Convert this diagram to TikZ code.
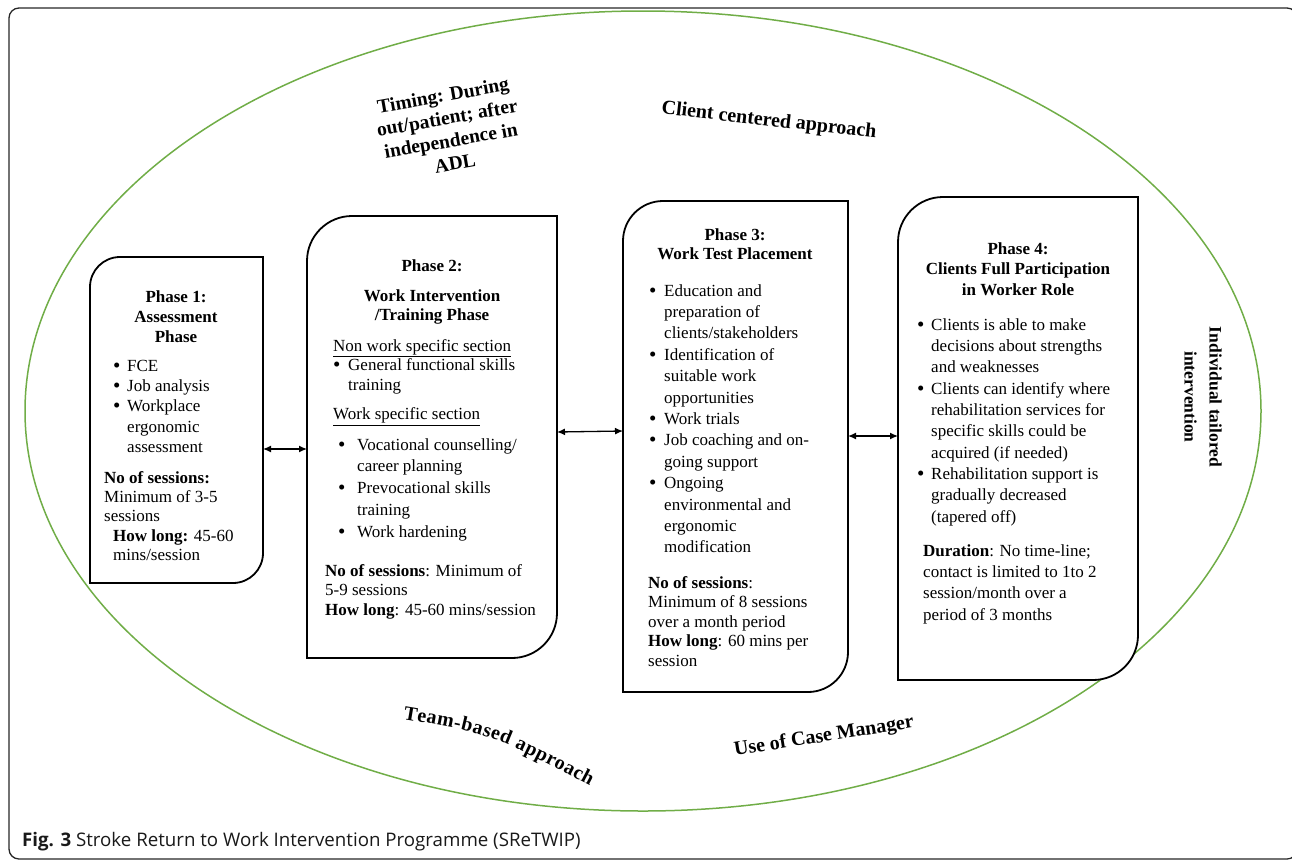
\documentclass[tikz,border=0pt]{standalone}
\usepackage{fontspec}
\setmainfont{Liberation Serif}
\newfontfamily\capfont{Open Sans}
\usetikzlibrary{arrows.meta,calc,decorations.text}
\definecolor{ellgreen}{HTML}{70AD47}
\newcommand\bigdot{\raisebox{-1pt}{\fontsize{21}{21}\selectfont\textbullet}}
\newcommand\pbul[2][14pt]{\strut\makebox[#1][l]{\bigdot}#2}
\newcommand\pcon[2][14pt]{\strut\hspace*{#1}#2}
\newcommand\phasebox[2]{%
  \draw[boxline] ($(#1.north west)+(#2,0)$) -- (#1.north east) -- ($(#1.south east)-(0,#2)$)
    .. controls ($(#1.south east)-(0,0.4477*#2)$) and ($(#1.south east)-(0.4477*#2,0)$) .. ($(#1.south east)-(#2,0)$)
    -- (#1.south west) -- ($(#1.north west)+(0,#2)$)
    .. controls ($(#1.north west)+(0,0.4477*#2)$) and ($(#1.north west)+(0.4477*#2,0)$) .. ($(#1.north west)+(#2,0)$) -- cycle;}
\tikzset{
  boxline/.style={draw=black, fill=white, line width=1.8pt},
  phase/.style={inner sep=0pt, outer sep=0pt, rectangle},
  ttl/.style={inner sep=0pt, anchor=north, align=center, font=\fontsize{17}{#1}\selectfont\bfseries},
  blk/.style={inner sep=0pt, anchor=north west, align=left, font=\fontsize{17}{#1}\selectfont},
  dbl/.style={arrows={Latex[length=8pt,width=7pt]-Latex[length=8pt,width=7pt]}, line width=1.3pt},
  lbl/.style={inner sep=0pt, align=center},
  ellipseline/.style={draw=ellgreen, line width=1.5pt},
  frameline/.style={draw=black!85, line width=1.3pt, rounded corners=10pt}
}
\begin{document}
\begin{tikzpicture}[x=1pt,y=-1pt]
\useasboundingbox (0,0) rectangle (1292,860);
\draw[frameline] (9,8) rectangle (1297,859);
\draw[ellipseline] (643,411) ellipse [x radius=618pt, y radius=400pt];

\node[phase, minimum width=173pt, minimum height=326pt] (b1) at (176.5,420) {};
\node[phase, minimum width=250pt, minimum height=442pt] (b2) at (432,437) {};
\node[phase, minimum width=225pt, minimum height=491pt] (b3) at (735.5,446.5) {};
\node[phase, minimum width=240pt, minimum height=483pt] (b4) at (1018,438.5) {};
\phasebox{b1}{30}
\phasebox{b2}{45}
\phasebox{b3}{40}
\phasebox{b4}{45}

% Box 1
\node[ttl=20] (t1) at (176,288) {\strut Phase 1:\\Assessment\\Phase};
\node[blk=20.3] (l1) at (113,356.8) {\pbul{FCE}\\\pbul{Job analysis}\\\pbul{Workplace}\\\pcon{ergonomic}\\\pcon{assessment}};
\node[blk=19.3] (s1) at (104,469.5) {\strut\textbf{No of sessions:}\\Minimum of 3-5\\sessions\\\hspace*{9pt}\textbf{How long:} 45-60\\\hspace*{9pt}mins/session};

% Box 2
\node[ttl=20] (t2a) at (432,257) {\strut Phase 2:};
\node[ttl=19] (t2b) at (432,287.7) {\strut Work Intervention\\/Training Phase};
\node[blk=19.5] (n2) at (333,337.5) {\strut\underline{Non work specific section}\\\pbul[15pt]{General functional skills}\\\pcon[15pt]{training}};
\node[blk=21] (w2) at (333,405) {\strut\underline{Work specific section}};
\node[blk=21.75] (l2) at (338,434.8) {\pbul[19pt]{Vocational counselling/}\\\pcon[19pt]{career planning}\\\pbul[19pt]{Prevocational skills}\\\pcon[19pt]{training}\\\pbul[19pt]{Work hardening}};
\node[blk=19.5] (s2) at (325,562.35) {\strut\textbf{No of sessions}: Minimum of\\5-9 sessions\\\textbf{How long}: 45-60 mins/session};

% Box 3
\node[ttl=19] (t3) at (735,226.7) {\strut Phase 3:\\Work Test Placement};
\node[blk=21.4] (l3) at (649,281) {\pbul[15pt]{Education and}\\\pcon[15pt]{preparation of}\\\pcon[15pt]{clients/stakeholders}\\\pbul[15pt]{Identification of}\\\pcon[15pt]{suitable work}\\\pcon[15pt]{opportunities}\\\pbul[15pt]{Work trials}\\\pbul[15pt]{Job coaching and on-}\\\pcon[15pt]{going support}\\\pbul[15pt]{Ongoing}\\\pcon[15pt]{environmental and}\\\pcon[15pt]{ergonomic}\\\pcon[15pt]{modification}};
\node[blk=19.5] (s3) at (648,574.35) {\strut\textbf{No of sessions}:\\Minimum of 8 sessions\\over a month period\\\textbf{How long}: 60 mins per\\session};

% Box 4
\node[ttl=20.5] (t4) at (1018,239.65) {\strut Phase 4:\\Clients Full Participation\\in Worker Role};
\node[blk=21.33] (l4) at (917,315) {\pbul{Clients is able to make}\\\pcon{decisions about strengths}\\\pcon{and weaknesses}\\\pbul{Clients can identify where}\\\pcon{rehabilitation services for}\\\pcon{specific skills could be}\\\pcon{acquired (if needed)}\\\pbul{Rehabilitation support is}\\\pcon{gradually decreased}\\\pcon{(tapered off)}};
\node[blk=21.33] (s4) at (923,541) {\strut\textbf{Duration}: No time-line;\\contact is limited to 1to 2\\session/month over a\\period of 3 months};

% connectors
\draw[dbl] (b1.east |- 0,449) -- (b2.west |- 0,449);
\draw[dbl] (b2.east |- 0,432) -- (b3.west |- 0,431);
\draw[dbl] (b3.east |- 0,436) -- (b4.west |- 0,436);

% labels around
\node[lbl, font=\fontsize{19.5}{23}\selectfont\bfseries, rotate=10] (timing) at (449,129) {Timing: During\\out/patient; after\\independence in\\ADL};
\node[lbl, font=\fontsize{20}{24}\selectfont\bfseries, rotate=-6.5] (client) at (769,121) {Client centered approach};
\node[lbl, font=\fontsize{17.5}{25}\selectfont\bfseries, rotate=-90] (indiv) at (1203,397) {Individual tailored\\intervention};
\node[lbl, font=\fontsize{20}{24}\selectfont\bfseries, rotate=9] (casemgr) at (824,737) {Use of Case Manager};
\coordinate (tbs) at (403,719);
\coordinate (tbc) at (491,734);
\coordinate (tbe) at (590,786);
\path[decorate, decoration={text along path, text={|\fontsize{20}{24}\selectfont\bfseries|Team-based approach}, text align={fit to path}}] (tbs) .. controls (tbc) .. (tbe);

% caption
\node[anchor=base west, inner sep=0pt, text=black!90, font=\capfont\fontsize{18.7}{21}\selectfont] (cap) at (22,846) {\textbf{Fig. 3} Stroke Return to Work Intervention Programme (SReTWIP)};
\end{tikzpicture}
\end{document}
